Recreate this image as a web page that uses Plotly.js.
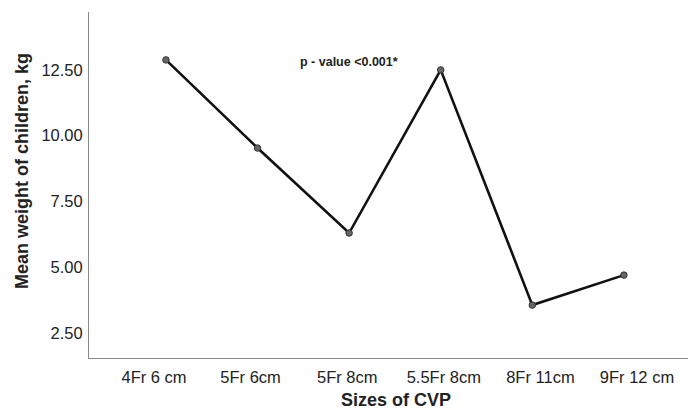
<!DOCTYPE html>
<html>
<head>
<meta charset="utf-8">
<script src="https://cdn.plot.ly/plotly-3.0.1.min.js"></script>
<style>html,body{margin:0;padding:0;background:#fff;}#chart{width:694px;height:410px;}</style>
</head>
<body>
<div id="chart"></div>
<script>
const categories = ["4Fr 6 cm", "5Fr 6cm", "5Fr 8cm", "5.5Fr 8cm", "8Fr 11cm", "9Fr 12 cm"];
const meanWeight = [12.88, 9.53, 6.30, 12.50, 3.56, 4.70];
const yTicks = [2.5, 5, 7.5, 10, 12.5];
const yTickLabels = ["2.50", "5.00", "7.50", "10.00", "12.50"];
const noteText = "p - value <0.001*";
const xTitle = "Sizes of CVP";
const yTitle = "Mean weight of children, kg";

const idx = categories.map((c, i) => i);

const trace = {
  type: "scatter",
  mode: "lines+markers",
  x: idx,
  y: meanWeight,
  line: {color: "#111111", width: 2.6},
  marker: {size: 6.5, color: "#666666", line: {color: "#333333", width: 1}},
  hoverinfo: "skip"
};
// invisible trace that only activates the label axis
const labelTrace = {
  type: "scatter", mode: "markers",
  x: idx, y: meanWeight, xaxis: "x2", yaxis: "y",
  marker: {opacity: 0}, hoverinfo: "skip", showlegend: false
};

const layout = {
  width: 694, height: 410,
  margin: {l: 89, r: 6, t: 12, b: 52},
  paper_bgcolor: "#ffffff", plot_bgcolor: "#ffffff",
  font: {family: "Liberation Sans, Arial, sans-serif", color: "#222222"},
  showlegend: false,
  xaxis: {
    range: [-0.84, 5.70],
    showticklabels: false,
    showgrid: false, zeroline: false,
    showline: true, linecolor: "#8a8a8a", linewidth: 1,
    ticks: ""
  },
  xaxis2: {
    overlaying: "x", side: "bottom", anchor: "y",
    range: [-0.673, 5.528],
    tickmode: "array",
    tickvals: idx,
    ticktext: categories,
    showgrid: false, zeroline: false, showline: false,
    ticks: "outside", ticklen: 4, tickcolor: "rgba(0,0,0,0)",
    tickfont: {size: 16.5, color: "#222222"}
  },
  yaxis: {
    range: [1.55, 14.7],
    tickmode: "array",
    tickvals: yTicks,
    ticktext: yTickLabels,
    showgrid: false, zeroline: false,
    showline: true, linecolor: "#8a8a8a", linewidth: 1,
    ticks: "outside", ticklen: 2, tickcolor: "rgba(0,0,0,0)",
    tickfont: {size: 16.5, color: "#222222"}
  },
  annotations: [
    {
      x: 2.0, y: 12.8, xref: "x", yref: "y",
      text: "<b>" + noteText + "</b>",
      showarrow: false,
      font: {size: 12.5, color: "#222222"}
    },
    {
      x: 0.5125, y: -0.1214, xref: "paper", yref: "paper",
      xanchor: "center", yanchor: "middle",
      text: "<b>" + xTitle + "</b>",
      showarrow: false,
      font: {size: 18, color: "#222222"}
    },
    {
      x: -0.1119, y: 0.5405, xref: "paper", yref: "paper",
      xanchor: "center", yanchor: "middle", textangle: -90,
      text: "<b>" + yTitle + "</b>",
      showarrow: false,
      font: {size: 18, color: "#222222"}
    }
  ]
};

Plotly.newPlot("chart", [trace, labelTrace], layout, {displayModeBar: false, staticPlot: true});
</script>
</body>
</html>
